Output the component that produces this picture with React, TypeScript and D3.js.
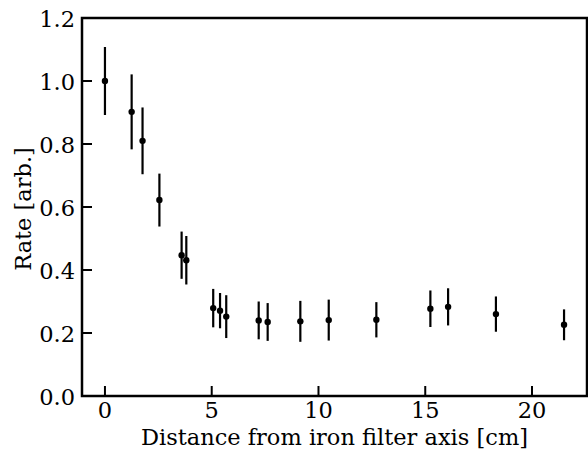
import React from "react";
import * as d3 from "d3";

const distance = [0, 1.25, 1.76, 2.55, 3.59, 3.81, 5.07, 5.39, 5.68, 7.2, 7.62, 9.15, 10.48, 12.71, 15.24, 16.07, 18.31, 21.5];
const rate = [1.0, 0.902, 0.81, 0.622, 0.447, 0.431, 0.279, 0.271, 0.252, 0.24, 0.235, 0.237, 0.241, 0.242, 0.277, 0.283, 0.26, 0.226];
const rateErr = [0.108, 0.119, 0.106, 0.084, 0.075, 0.077, 0.061, 0.056, 0.068, 0.06, 0.06, 0.065, 0.065, 0.056, 0.058, 0.059, 0.056, 0.049];
const xTicks = [0, 5, 10, 15, 20];
const yTicks = [0.0, 0.2, 0.4, 0.6, 0.8, 1.0, 1.2];
const xLabel = "Distance from iron filter axis [cm]";
const yLabel = "Rate [arb.]";

const W = 588, H = 449;
const m = { left: 82, top: 18, right: 1, bottom: 53 };
const FONT = "'DejaVu Serif'";
const FS = 22.5;

export default function App() {
  const [x0, x1] = d3.extent(distance) as [number, number];
  const pad = (x1 - x0) * 0.05;
  const x = d3.scaleLinear().domain([x0 - pad, x1 + pad]).range([m.left, W - m.right]);
  const y = d3.scaleLinear().domain([0, 1.2]).range([H - m.bottom, m.top]);
  const bottom = H - m.bottom;
  const ts = { fontFamily: FONT, fontSize: FS };
  return (
    <svg width={W} height={H} style={{ position: "absolute", left: 0, top: 0, background: "#fff" }}>
      {distance.map((d, i) => (
        <g key={i}>
          <line x1={x(d)} x2={x(d)} y1={y(rate[i] - rateErr[i])} y2={y(rate[i] + rateErr[i])} stroke="#000" strokeWidth={2.2} />
          <circle cx={x(d)} cy={y(rate[i])} r={3.2} fill="#000" />
        </g>
      ))}
      {xTicks.map((t) => (
        <g key={t}>
          <line x1={x(t)} x2={x(t)} y1={bottom} y2={bottom - 10} stroke="#000" strokeWidth={2} />
          <text x={x(t)} y={bottom + 22} style={ts} textAnchor="middle">{t}</text>
        </g>
      ))}
      {yTicks.map((t) => (
        <g key={t}>
          <line x1={m.left} x2={m.left + 10} y1={y(t)} y2={y(t)} stroke="#000" strokeWidth={2} />
          <text x={m.left - 7} y={y(t) + 8.5} style={ts} textAnchor="end">{t.toFixed(1)}</text>
        </g>
      ))}
      <rect x={m.left} y={m.top} width={W - m.right - m.left} height={bottom - m.top} fill="none" stroke="#000" strokeWidth={2.5} />
      <text x={(m.left + W - m.right) / 2} y={bottom + 49} style={ts} textAnchor="middle">{xLabel}</text>
      <text transform={`translate(31,${(m.top + bottom) / 2 + 2}) rotate(-90)`} style={ts} textAnchor="middle">{yLabel}</text>
    </svg>
  );
}
